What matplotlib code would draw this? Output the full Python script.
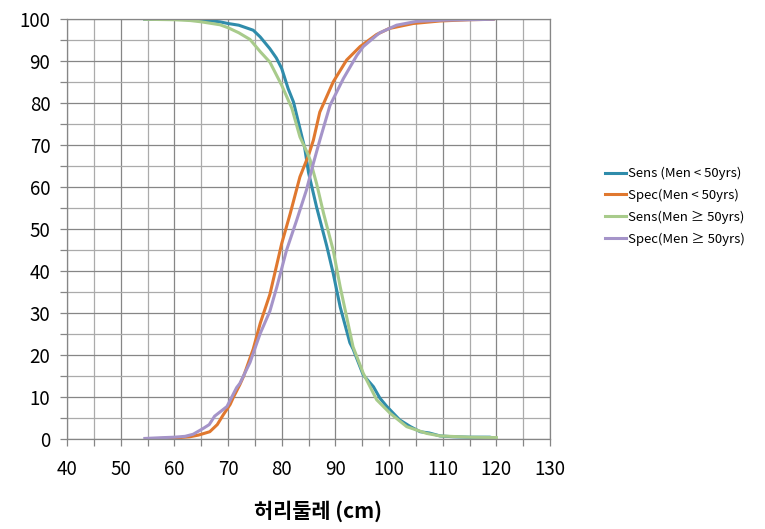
import matplotlib.pyplot as plt
from matplotlib.ticker import MultipleLocator

plt.rcParams['font.family'] = ['Noto Sans CJK KR', 'DejaVu Sans']

# Sens (Men < 50yrs)
sens_lt50_x = [54.5, 60, 64, 67, 68.5, 70, 72, 74.7, 76, 77.8, 79, 80, 81.2, 82.2, 83.4, 84.3,
               85, 86.5, 88.4, 89.6, 90.9, 92.7, 93.3, 95.2, 97.1, 98.3, 99.6, 102, 104, 105.8,
               107.5, 109.5, 112, 115, 118.8, 119.5]
sens_lt50_y = [100, 100, 99.9, 99.6, 99.4, 99, 98.6, 97.4, 95.8, 93, 90.8, 88.3, 83.5, 80.3, 74, 69.3,
               63.5, 55.3, 46, 39.5, 31.5, 23, 21.5, 15.3, 12.5, 9.8, 7.8, 4.6, 3, 1.8,
               1.5, 0.8, 0.6, 0.5, 0.5, 0.3]

# Spec (Men < 50yrs)
spec_lt50_x = [55, 60, 62.9, 64.5, 66.6, 68, 69.1, 70.4, 71, 72.2, 72.9, 74.7, 76, 77.8, 80, 81.6,
               83.4, 85, 85.9, 87.1, 89.6, 92.1, 94.6, 97.7, 100, 104.5, 109.5, 115, 119.4]
spec_lt50_y = [0.1, 0.3, 0.6, 1.0, 1.8, 3.5, 5.8, 8.3, 10, 13, 15, 21.5, 27.6, 34.5, 46.6, 53.8,
               62.5, 67.6, 71.2, 77.9, 85.1, 90.3, 93.5, 96.4, 97.8, 99, 99.6, 99.9, 100]

# Sens (Men >= 50yrs)
sens_ge50_x = [54.5, 60, 63, 65, 67, 68.5, 70, 72, 74.1, 76, 77.8, 80, 81.9, 83.4, 84.7, 85.3,
               86.5, 87.8, 89.6, 90.9, 93.3, 95.2, 97.7, 100.2, 103.3, 107, 109.5, 115, 120]
sens_ge50_y = [100, 99.9, 99.7, 99.4, 99.0, 98.7, 98, 96.8, 95.2, 92.3, 89.8, 84.3, 78.8, 72, 68.4, 66.5,
               60.9, 53.8, 45, 36.3, 22, 15.7, 9.4, 6.2, 3, 1.4, 0.8, 0.5, 0.4]

# Spec (Men >= 50yrs)
spec_ge50_x = [54.5, 58, 60, 62, 63.5, 65.4, 66.5, 67.5, 69.8, 71.6, 72.2, 74.1, 76, 77.8, 79.1, 80.9,
               82.8, 84.6, 85.9, 87.1, 89, 91.5, 94, 95.2, 97.7, 98.3, 101.4, 105.1, 110, 119.4]
spec_ge50_y = [0.2, 0.4, 0.5, 0.7, 1.2, 2.6, 3.5, 5.5, 7.8, 12.3, 13.3, 18.3, 25.2, 30.5, 36.3, 45,
               52.2, 59.3, 65.7, 71.2, 79.5, 85.9, 91.4, 93.5, 96.2, 96.8, 98.6, 99.5, 99.8, 100]

labels = ['Sens (Men < 50yrs)', 'Spec(Men < 50yrs)', 'Sens(Men \u2265 50yrs)', 'Spec(Men \u2265 50yrs)']
colors = ['#2F8CAB', '#E0782F', '#A8CB8B', '#A594C9']

fig = plt.figure(figsize=(7.65, 5.29), dpi=100)
ax = fig.add_axes([0.0876, 0.1696, 0.6314, 0.7939])

series = [(sens_lt50_x, sens_lt50_y), (spec_lt50_x, spec_lt50_y),
          (sens_ge50_x, sens_ge50_y), (spec_ge50_x, spec_ge50_y)]
for (xs, ys), lab, col in zip(series, labels, colors):
    ax.plot(xs, ys, color=col, lw=2.2, label=lab)

ax.set_xlim(40, 130)
ax.set_ylim(0, 100)
ax.xaxis.set_major_locator(MultipleLocator(10))
ax.xaxis.set_minor_locator(MultipleLocator(5))
ax.yaxis.set_major_locator(MultipleLocator(10))
ax.yaxis.set_minor_locator(MultipleLocator(5))

ax.grid(which='major', color='#868686', lw=0.9)
ax.grid(which='minor', color='#ABABAB', lw=0.9)
ax.set_axisbelow(True)
for s in ax.spines.values():
    s.set_color('#868686')
    s.set_linewidth(0.9)

ax.tick_params(which='both', direction='out', color='#868686', length=5, width=0.9)
ax.tick_params(axis='x', which='major', labelsize=13.5, pad=9)
ax.tick_params(axis='y', which='major', labelsize=13.5, pad=7)

ax.set_xlabel('허리둘레 (cm)', fontsize=15, fontweight='bold')
ax.xaxis.set_label_coords(0.52, -0.145)

fig.legend(loc='center left', bbox_to_anchor=(0.775, 0.61), frameon=False, fontsize=9.5,
           handlelength=1.6, handletextpad=0.2, labelspacing=0.65)

fig.savefig('out.png', dpi=100)
